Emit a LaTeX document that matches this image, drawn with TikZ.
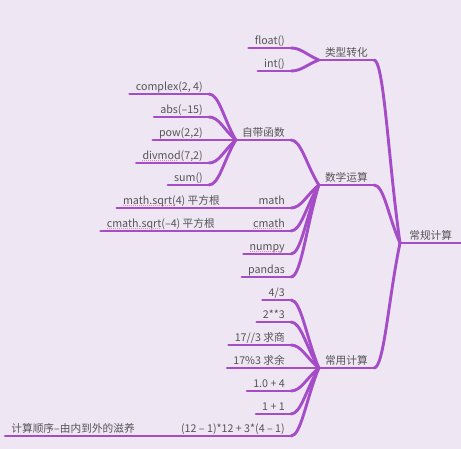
\documentclass[tikz,border=0pt]{standalone}
\usepackage{fontspec}
\setmainfont{Noto Sans CJK SC}
\usetikzlibrary{calc}
\definecolor{mindbg}{HTML}{EFE6F4}
\definecolor{mindline}{HTML}{A54CC7}
\definecolor{mindtext}{HTML}{555555}
\definecolor{squigpink}{HTML}{E58AB0}
\tikzset{
  uline/.style={draw=mindline, line width=2.9pt, line cap=round, to path={-- (\tikztotarget)}},
  topic/.style={anchor=south east, inner xsep=6pt, inner ysep=0pt,
    text height=8pt, text depth=3.5pt, text=mindtext,
    font=\fontsize{10.7}{12}\selectfont,
    append after command={(\tikzlastnode.south west) edge[uline] (\tikzlastnode.south east)}},
  limb/.style={draw=mindline, line width=2.9pt, line cap=round,
    to path={.. controls ($(\tikztostart)+(10,0)$) and ($(\tikztotarget)!0.45!(\tikztostart)$) .. (\tikztotarget)}},
  squig/.style={draw=squigpink, line width=0.8pt, dash pattern=on 1pt off 1pt},
}
\begin{document}
\begin{tikzpicture}[x=1pt,y=-1pt]
\fill[mindbg] (0,0) rectangle (461,449);
\useasboundingbox (0,0) rectangle (461,449);

% root and first level
\node[topic, anchor=south west, minimum width=61pt] (root) at (400,243) {常规计算};
\node[topic] (typecv) at (374,60)  {类型转化};
\node[topic] (mathop) at (374,185) {数学运算};
\node[topic] (common) at (374,368) {常用计算};

% 类型转化
\node[topic] (float) at (291,48) {float()};
\node[topic] (int)   at (291,71) {int()};

% 数学运算
\node[topic] (builtin) at (291,140) {自带函数};
\node[topic] (math)    at (291,208) {math};
\node[topic] (cmath)   at (291,231) {cmath};
\node[topic] (numpy)   at (291,254) {numpy};
\node[topic] (pandas)  at (291,277) {pandas};

\node[topic] (complex) at (209,94)  {complex(2, 4)};
\node[topic] (abs)     at (209,117) {abs(–15)};
\node[topic] (pow)     at (209,140) {pow(2,2)};
\node[topic] (divmod)  at (209,163) {divmod(7,2)};
\node[topic] (sum)     at (209,185) {sum()};

\node[topic] (msqrt) at (226,208) {math.sqrt(4) 平方根};
\node[topic] (csqrt) at (221,231) {cmath.sqrt(–4) 平方根};

% 常用计算
\node[topic] (div)   at (291,300) {4/3};
\node[topic] (power) at (291,322) {2**3};
\node[topic] (quot)  at (291,345) {17//3 求商};
\node[topic] (rem)   at (291,368) {17\%3 求余};
\node[topic] (addf)  at (291,391) {1.0 + 4};
\node[topic] (addi)  at (291,414) {1 + 1};
\node[topic] (expr)  at (291,436) {(12 – 1)*12 + 3*(4 – 1)};
\node[topic] (order) at (141,436) {计算顺序–由内到外的滋养};

% connectors
\foreach \a/\b in {typecv/root, mathop/root, common/root,
  float/typecv, int/typecv,
  builtin/mathop, math/mathop, cmath/mathop, numpy/mathop, pandas/mathop,
  complex/builtin, abs/builtin, pow/builtin, divmod/builtin, sum/builtin,
  msqrt/math, csqrt/cmath,
  div/common, power/common, quot/common, rem/common, addf/common, addi/common, expr/common,
  order/expr}
  \draw[limb] (\a.south east) to (\b.south west);

% spell check marks
\draw[squig] ($(divmod.south west)+(6,-2.5)$) -- +(35,0);
\draw[squig] ($(msqrt.south west)+(6,-2.5)$) -- +(51,0);
\draw[squig] ($(csqrt.south west)+(6,-2.5)$) -- +(53,0);
\draw[squig] ($(cmath.south west)+(6,-2.5)$) -- +(30,0);
\draw[squig] ($(numpy.south west)+(6,-2.5)$) -- +(32,0);
\end{tikzpicture}
\end{document}
